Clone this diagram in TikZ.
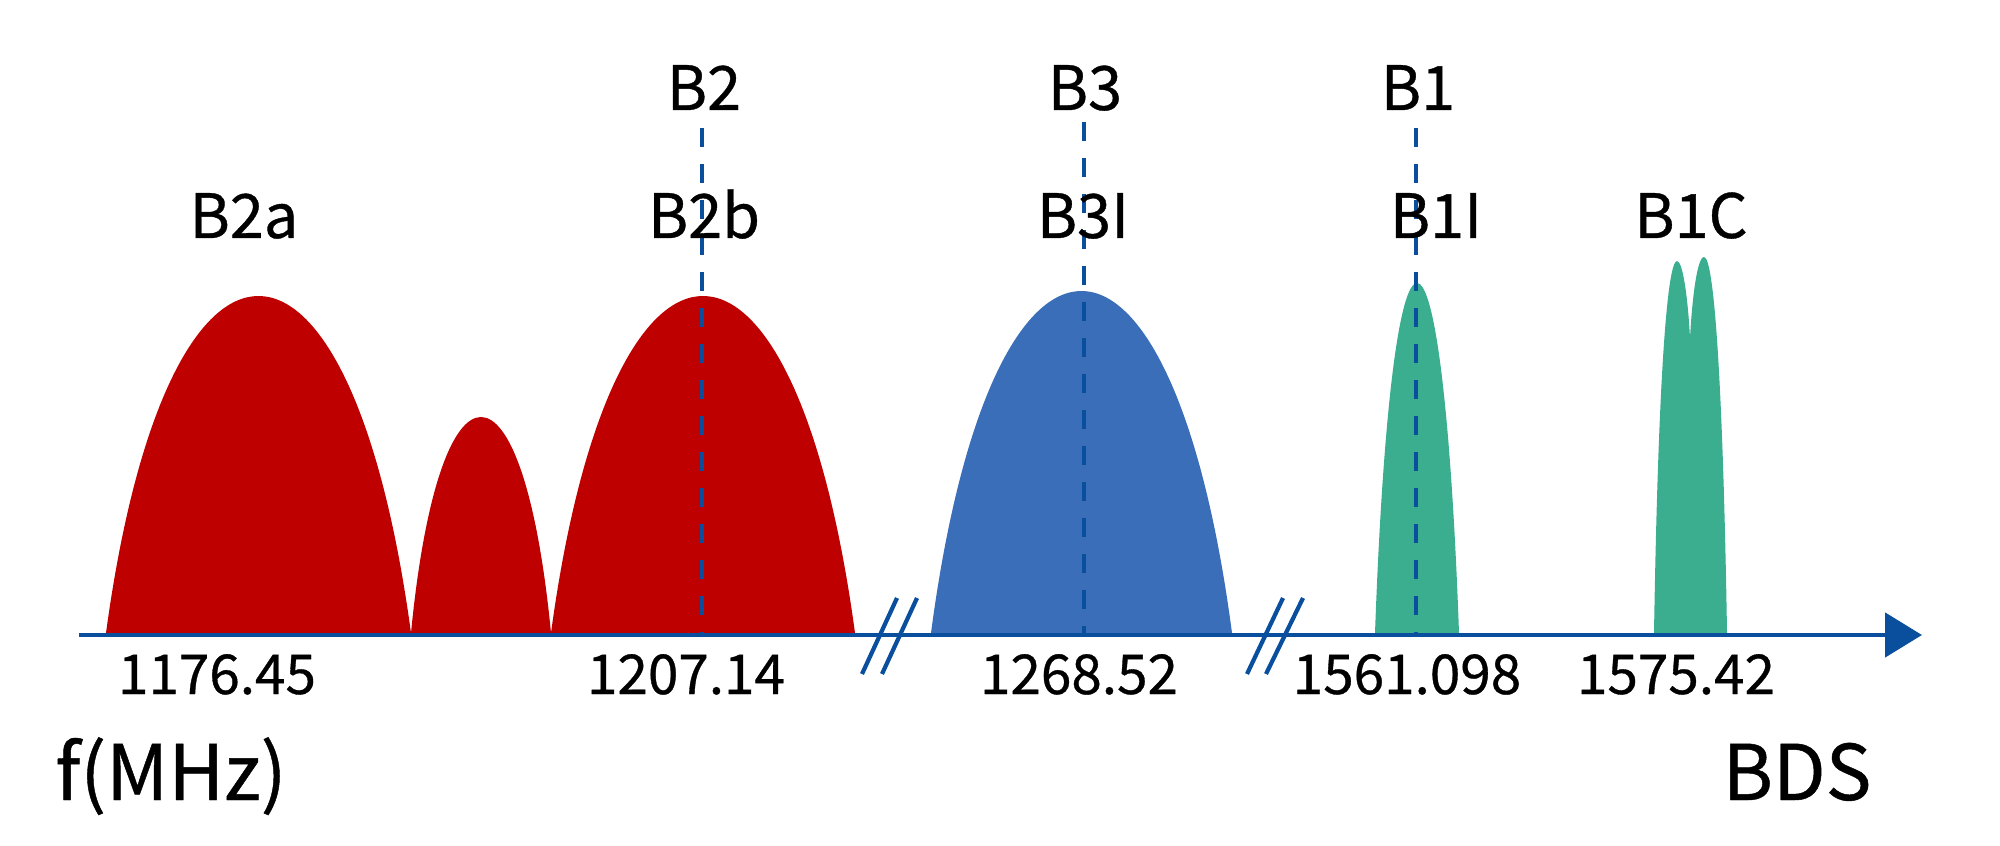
\documentclass[tikz,border=0pt]{standalone}
\usepackage{fontspec}
\setmainfont{Noto Sans CJK SC}[FakeBold=0.6]
\usepackage{tikz}
\usetikzlibrary{arrows.meta, positioning}
\definecolor{axisblue}{RGB}{10,79,158}
\definecolor{bandred}{RGB}{190,0,0}
\definecolor{bandblue}{RGB}{58,110,184}
\definecolor{bandgreen}{RGB}{59,174,143}
% lobe: left base, right base, peak y (pixel units, y downwards)
\newcommand\lobe[4]{%
  \fill[#4] (#1,633) .. controls ({#1+0.2*(#2-#1)},{633-4*(633-#3)/3})
    and ({#2-0.2*(#2-#1)},{633-4*(633-#3)/3}) .. (#2,633) -- cycle;}

\begin{document}
\begin{tikzpicture}[x=0.01cm, y=-0.01cm,
    bandlabel/.style={inner sep=0pt, anchor=base, font=\fontsize{17.4}{20}\selectfont},
    freqlabel/.style={inner sep=0pt, anchor=base, font=\fontsize{15.6}{18}\selectfont},
    axislabel/.style={inner sep=0pt, anchor=base, font=\fontsize{21.8}{25}\selectfont},
    carrier/.style={axisblue, line width=1.4pt, dash pattern=on 0.19cm off 0.17cm},
    breakmark/.style={axisblue, line width=1.2pt}]
  \useasboundingbox (0,0) rectangle (2000,846);
  % signal lobes
  \lobe{106}{411}{296}{bandred}
  \lobe{411}{551}{417}{bandred}
  \lobe{551}{855}{296}{bandred}
  \lobe{931}{1232}{291}{bandblue}
  \lobe{1375}{1459}{283}{bandgreen}
  % double lobe of B1C
  \fill[bandgreen] (1654,633) .. controls (1658,385) and (1667,261) .. (1677,261)
    .. controls (1683,261) and (1688,300) .. (1690,338)
    .. controls (1692,300) and (1697,257) .. (1704,257)
    .. controls (1714,257) and (1723,382) .. (1727,633) -- cycle;
  % axis
  \coordinate (axisstart) at (79,635);
  \coordinate (axisend) at (1922,635);
  \draw[axisblue, line width=1.4pt, -{Triangle[length=0.37cm, width=0.44cm]}] (axisstart) -- (axisend);
  % breaks
  \draw[breakmark] (897,598) -- (862,674);
  \draw[breakmark] (917,598) -- (882,674);
  \draw[breakmark] (1283,598) -- (1247,674);
  \draw[breakmark] (1303,598) -- (1266,674);
  % carrier lines
  \coordinate (topB2) at (702,128);
  \coordinate (topB3) at (1084,122);
  \coordinate (topB1) at (1416,128);
  \coordinate (botB2) at (702,633);
  \coordinate (botB3) at (1084,633);
  \coordinate (botB1) at (1416,633);
  \draw[carrier] (topB2) -- (botB2);
  \draw[carrier] (topB3) -- (botB3);
  \draw[carrier] (topB1) -- (botB1);
  % labels
  \node[bandlabel] (B2) at (704,110) {B2};
  \node[bandlabel] (B3) at (1085,110) {B3};
  \node[bandlabel] (B1) at (1418,110) {B1};
  \node[bandlabel] (B2a) at (244,238) {B2a};
  \node[bandlabel] (B2b) at (704,238) {B2b};
  \node[bandlabel] (B3I) at (1083,238) {B3I};
  \node[bandlabel] (B1I) at (1436,238) {B1I};
  \node[bandlabel] (B1C) at (1691,238) {B1C};
  \node[freqlabel] (f1) at (217,694) {1176.45};
  \node[freqlabel] (f2) at (686,694) {1207.14};
  \node[freqlabel] (f3) at (1079,694) {1268.52};
  \node[freqlabel] (f4) at (1407,694) {1561.098};
  \node[freqlabel] (f5) at (1676,694) {1575.42};
  \node[axislabel] (fMHz) at (171,800) {f(MHz)};
  \node[axislabel] (BDS) at (1797,800) {BDS};
\end{tikzpicture}
\end{document}
